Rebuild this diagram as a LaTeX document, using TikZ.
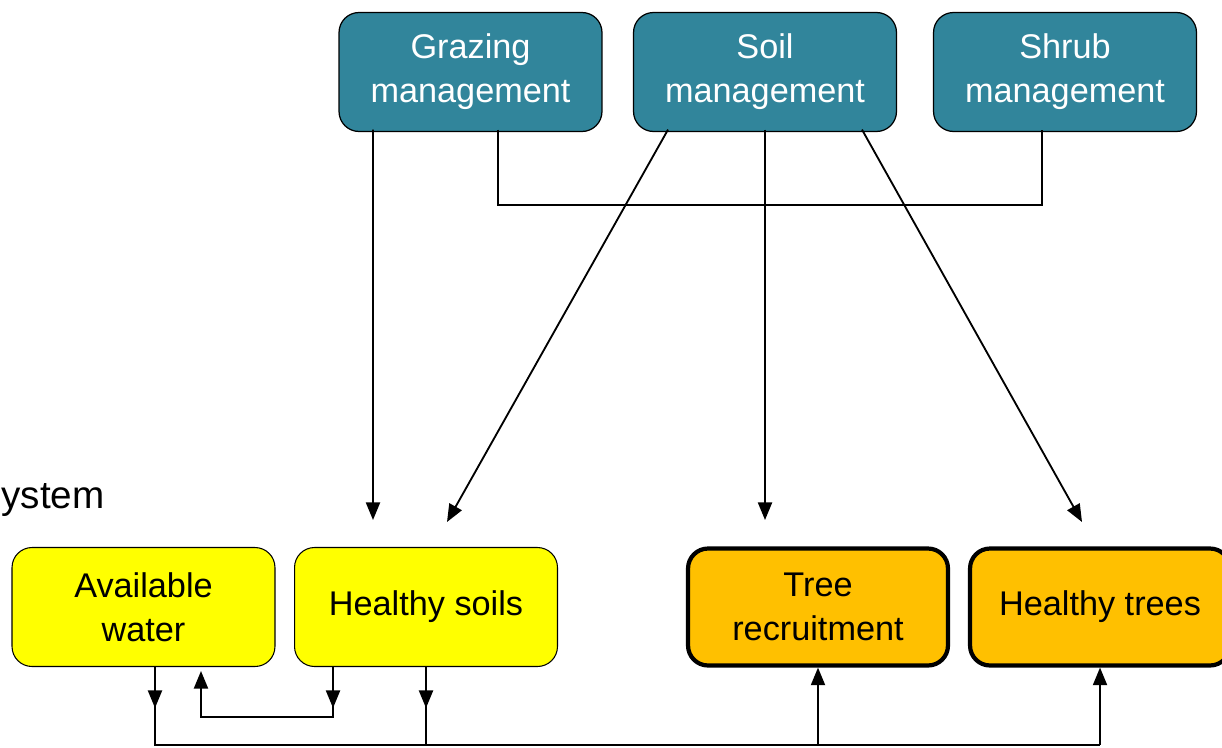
\documentclass[tikz,border=0pt]{standalone}
\usepackage{fontspec}
\setmainfont{Liberation Sans}
\usetikzlibrary{arrows.meta}
\definecolor{mgmtteal}{RGB}{49,133,155}
\definecolor{goalyellow}{RGB}{255,255,0}
\definecolor{goalorange}{RGB}{255,192,0}
\tikzset{
    mgmt/.style={draw=black, line width=0.7pt, fill=mgmtteal, text=white, rounded corners=0.4cm,
        minimum width=5.26cm, minimum height=2.38cm, align=center, font=\fontsize{19.5}{25}\selectfont},
    soilbox/.style={draw=black, line width=0.6pt, fill=goalyellow, rounded corners=0.4cm,
        minimum width=5.26cm, minimum height=2.38cm, align=center, font=\fontsize{19.5}{25}\selectfont},
    treebox/.style={draw=black, line width=2.4pt, fill=goalorange, rounded corners=0.4cm,
        minimum width=5.2cm, minimum height=2.34cm, align=center, font=\fontsize{19.5}{25}\selectfont},
    arr/.style={line width=1.05pt, -{Triangle[length=10pt,width=8pt]}},
    plain/.style={line width=1.05pt},
    bracket/.style={line width=1.5pt}
}
\begin{document}
\begin{tikzpicture}[x=0.02cm,y=-0.02cm]
    \useasboundingbox (0,0) rectangle (1222,747);
    %Management
    \node[mgmt] (graze) at (470.5,72) {Grazing\\management};
    \node[mgmt] (soil) at (765,72) {Soil\\management};
    \node[mgmt] (shrub) at (1065,72) {Shrub\\management};
    %System
    \node[anchor=west, font=\fontsize{22}{26}\selectfont, inner sep=0pt] (sys) at (1,500) {ystem};
    \node[soilbox] (water) at (143.5,607) {Available\\water};
    \node[soilbox] (soils) at (426,607) {Healthy soils};
    \node[treebox] (recruit) at (818,607) {Tree\\recruitment};
    \node[treebox] (trees) at (1100,607) {Healthy trees};
    %Free ends
    \coordinate (gzend) at (373,520);
    \coordinate (slend) at (447,522);
    \coordinate (smend) at (765,520);
    \coordinate (srend) at (1082,522);
    \coordinate (bar) at (770,205);
    \coordinate (base) at (600,745);
    \coordinate (loop) at (260,717);
    %Management links
    \draw[arr] ([xshift=-1.95cm,yshift=0.05cm]graze.south) -- (gzend);
    \draw[bracket] ([xshift=0.55cm,yshift=0.05cm]graze.south) |- (bar) -| ([xshift=-0.46cm,yshift=0.05cm]shrub.south);
    \draw[arr] ([xshift=-1.94cm,yshift=0.05cm]soil.south) -- (slend);
    \draw[arr] ([yshift=0.05cm]soil.south) -- (smend);
    \draw[arr] ([xshift=1.94cm,yshift=0.05cm]soil.south) -- (srend);
    %Feedbacks
    \draw[plain] ([xshift=0.23cm]water.south) |- (trees.south |- base);
    \draw[arr] ([xshift=0.23cm]water.south) -- ++(0,41);
    \draw[plain] (soils.south) -- (soils.south |- base);
    \draw[arr] (soils.south) -- ++(0,41);
    \draw[arr] ([xshift=-1.86cm]soils.south) |- (loop) -| ([xshift=1.15cm,yshift=-0.08cm]water.south);
    \draw[arr] ([xshift=-1.86cm]soils.south) -- ++(0,41);
    \draw[arr] (recruit.south |- base) -- (recruit.south);
    \draw[arr] (trees.south |- base) -- (trees.south);
\end{tikzpicture}
\end{document}
